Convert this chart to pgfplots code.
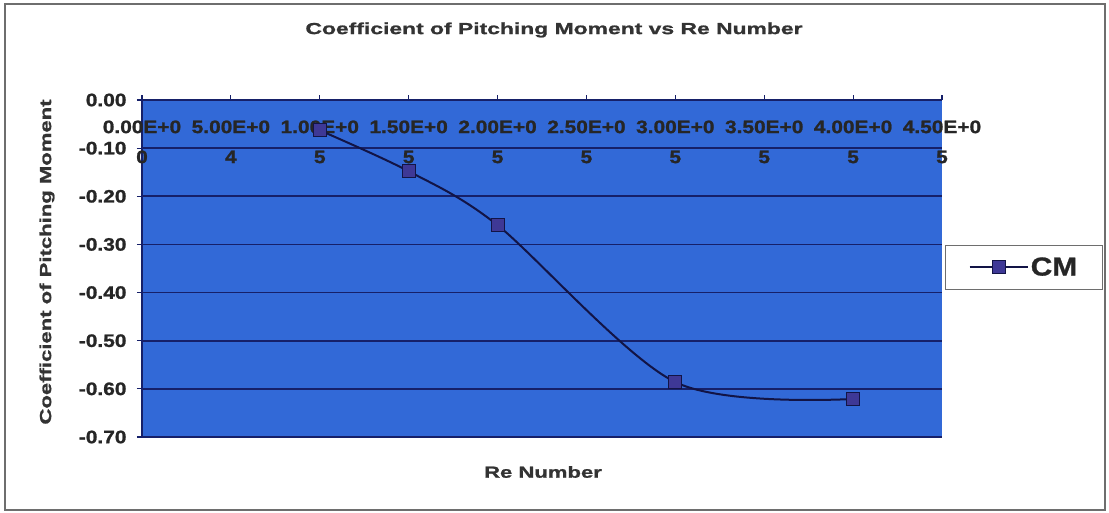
\documentclass[border=0pt]{standalone}
\usepackage{pgfplots}
\pgfplotsset{compat=1.18}
\usepackage{fontspec}
\setmainfont{Liberation Sans}
\newfontfamily\ftitle{Liberation Sans}[FakeStretch=1.43, BoldFeatures={FakeBold=1.2}]
\newfontfamily\flab{Liberation Sans}[FakeStretch=1.38, BoldFeatures={FakeBold=1.2}]
\newfontfamily\ftick{Liberation Sans}[FakeStretch=1.16, BoldFeatures={FakeBold=1.2}]
\newfontfamily\fleg{Liberation Sans}[FakeStretch=1.15, BoldFeatures={FakeBold=1}]
\definecolor{bgblue}{RGB}{50,105,215}
\definecolor{gridc}{RGB}{22,32,105}
\definecolor{linec}{RGB}{18,20,70}
\definecolor{markc}{RGB}{62,56,150}
\definecolor{framec}{RGB}{110,110,110}
\begin{document}
\begin{tikzpicture}[x=1pt,y=1pt]
\useasboundingbox (0,0) rectangle (1109,513);
\fill[white] (0,0) rectangle (1109,513);
\draw[framec, line width=2pt] (5,3) rectangle (1105,509);
\begin{axis}[
  at={(142pt,76pt)}, anchor=south west,
  scale only axis, width=800pt, height=337pt,
  xmin=0, xmax=450000, ymin=-0.7, ymax=0,
  axis x line*=top, axis y line*=left,
  axis line style={-, line width=1.6pt, draw=gridc},
  axis background/.style={fill=bgblue},
  scaled x ticks=false, scaled y ticks=false,
  xtick={0,50000,100000,150000,200000,250000,300000,350000,400000,450000},
  xticklabels={{0.00E+0\\0},{5.00E+0\\4},{1.00E+0\\5},{1.50E+0\\5},{2.00E+0\\5},{2.50E+0\\5},{3.00E+0\\5},{3.50E+0\\5},{4.00E+0\\5},{4.50E+0\\5}},
  ytick={-0.7,-0.6,-0.5,-0.4,-0.3,-0.2,-0.1,0},
  yticklabels={-0.70,-0.60,-0.50,-0.40,-0.30,-0.20,-0.10,0.00},
  tick align=outside, major tick length=5pt,
  tick style={line width=1.2pt, draw=gridc},
  xticklabel style={anchor=north, yshift=-22pt, align=center, font=\ftick\bfseries\fontsize{18}{30}\selectfont, text=black!85},
  yticklabel style={anchor=east, xshift=-7pt, font=\ftick\bfseries\fontsize{18}{20}\selectfont, text=black!85},
  ymajorgrids, major grid style={line width=1.6pt, draw=gridc},
  legend style={at={(1.004,0.57)}, anchor=north west, draw=framec, line width=1pt, fill=white,
    inner xsep=23pt, inner ysep=10pt, font=\fleg\bfseries\fontsize{26}{28}\selectfont, text=black!85},
  legend image code/.code={\draw[mark repeat=2,mark phase=2,#1] plot coordinates {(0pt,0pt) (29pt,0pt) (58pt,0pt)};},
]
\addplot[smooth, color=linec, line width=2pt, mark=square*, mark size=6.5pt,
  mark options={fill=markc, draw=linec, line width=1pt}]
  coordinates {(100000,-0.063) (150000,-0.148) (200000,-0.26) (300000,-0.586) (400000,-0.621)};
\addlegendentry{CM}
\end{axis}
\node[font=\ftitle\bfseries\fontsize{16}{18}\selectfont, text=black!80] at (554,483) {Coefficient of Pitching Moment vs Re Number};
\node[font=\flab\bfseries\fontsize{16}{18}\selectfont, rotate=90, text=black!80] at (47,251) {Coefficient of Pitching Moment};
\node[font=\flab\bfseries\fontsize{16}{18}\selectfont, text=black!80] at (543,41) {Re Number};
\end{tikzpicture}
\end{document}
